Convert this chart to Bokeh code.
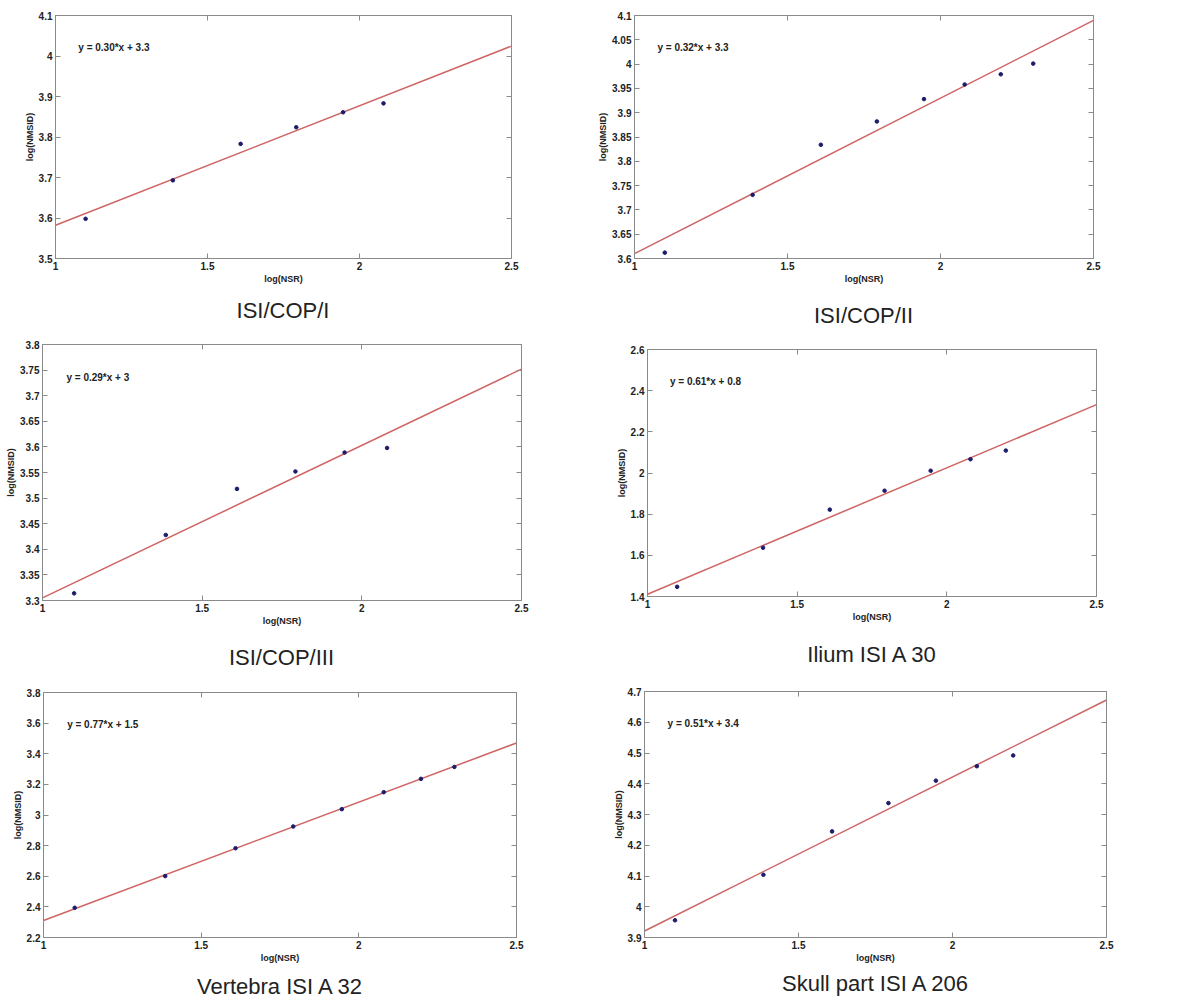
from bokeh.plotting import figure
from bokeh.layouts import column, row
from bokeh.models import Range1d, FixedTicker, LinearAxis, Label, CustomJSTickFormatter, Div
from bokeh.embed import file_html
from bokeh.resources import INLINE

# ---------------- data ----------------
x_nsr = [1.099, 1.386, 1.609, 1.792, 1.946, 2.079, 2.197, 2.303]
x_ticks = [1, 1.5, 2, 2.5]

titles = ["ISI/COP/I", "ISI/COP/II", "ISI/COP/III", "Ilium ISI A 30",
          "Vertebra ISI A 32", "Skull part ISI A 206"]

cop1_y = [3.598, 3.693, 3.783, 3.824, 3.861, 3.883]
cop2_y = [3.612, 3.731, 3.834, 3.882, 3.928, 3.958, 3.979, 4.001]
cop3_y = [3.314, 3.428, 3.518, 3.552, 3.589, 3.598]
ilium_y = [1.447, 1.637, 1.822, 1.914, 2.011, 2.067, 2.109]
vert_y = [2.394, 2.601, 2.783, 2.925, 3.038, 3.149, 3.236, 3.314]
skull_y = [3.956, 4.104, 4.245, 4.337, 4.410, 4.457, 4.492]

fit_slope = [0.295, 0.320, 0.298, 0.614, 0.773, 0.501]
fit_intercept = [3.287, 3.290, 3.007, 0.797, 1.538, 3.420]
equations = ["y = 0.30*x + 3.3", "y = 0.32*x + 3.3", "y = 0.29*x + 3",
             "y = 0.61*x + 0.8", "y = 0.77*x + 1.5", "y = 0.51*x + 3.4"]

y_ranges = [(3.5, 4.1), (3.6, 4.1), (3.3, 3.8), (1.4, 2.6), (2.2, 3.8), (3.9, 4.7)]
y_ticks_1 = [3.5, 3.6, 3.7, 3.8, 3.9, 4.0, 4.1]
y_ticks_2 = [3.6, 3.65, 3.7, 3.75, 3.8, 3.85, 3.9, 3.95, 4.0, 4.05, 4.1]
y_ticks_3 = [3.3, 3.35, 3.4, 3.45, 3.5, 3.55, 3.6, 3.65, 3.7, 3.75, 3.8]
y_ticks_4 = [1.4, 1.6, 1.8, 2.0, 2.2, 2.4, 2.6]
y_ticks_5 = [2.2, 2.4, 2.6, 2.8, 3.0, 3.2, 3.4, 3.6, 3.8]
y_ticks_6 = [3.9, 4.0, 4.1, 4.2, 4.3, 4.4, 4.5, 4.6, 4.7]

series = [cop1_y, cop2_y, cop3_y, ilium_y, vert_y, skull_y]
y_ticks = [y_ticks_1, y_ticks_2, y_ticks_3, y_ticks_4, y_ticks_5, y_ticks_6]

# ---- layout: frame w, frame h, border l, r, t, caption box height, caption centre in box ----
AXB = 32  # bottom border holding the x axis
geom = [
    (456, 243, 55, 63, 15, 44, 21),
    (459, 243, 60, 10, 15, 44, 26),
    (479, 256, 42, 66, 10, 49, 26),
    (449, 247, 60, 10, 15, 53, 27),
    (473, 245, 43, 68, 11, 30, 18),
    (462, 246, 60, 10, 10, 30, 15),
]

FONT = "Liberation Sans"
EDGE = "#8a8a8a"
fmt = CustomJSTickFormatter(code="return String(+tick.toFixed(3));")
blank = CustomJSTickFormatter(code="return '';")


def style_axis(ax, ticks, show_labels=True):
    ax.ticker = FixedTicker(ticks=ticks)
    ax.minor_tick_line_color = None
    ax.major_tick_in = 5
    ax.major_tick_out = 0
    ax.major_tick_line_color = EDGE
    ax.axis_line_color = EDGE
    if show_labels:
        ax.formatter = fmt
        ax.major_label_text_font = FONT
        ax.major_label_text_font_style = "bold"
        ax.major_label_text_font_size = "10px"
        ax.major_label_text_color = "#222222"
        ax.major_label_standoff = 3
        ax.axis_label_text_font = FONT
        ax.axis_label_text_font_style = "bold"
        ax.axis_label_text_font_size = "9px"
        ax.axis_label_text_color = "#222222"
        ax.axis_label_standoff = 1
    else:
        ax.formatter = blank
        ax.major_label_standoff = 0
        ax.major_label_text_font_size = "1px"


def make_panel(i):
    fw, fh, bl, br, bt, dh, dc = geom[i]
    x0, x1 = x_ticks[0], x_ticks[-1]
    y0, y1 = y_ranges[i]
    W = bl + fw + br
    p = figure(width=W, height=bt + fh + AXB,
               x_range=Range1d(x0, x1), y_range=Range1d(y0, y1),
               output_backend="svg", toolbar_location=None,
               min_border_left=bl, min_border_right=br,
               min_border_top=bt, min_border_bottom=AXB)
    p.grid.visible = False
    p.outline_line_color = EDGE
    p.background_fill_color = "white"
    p.border_fill_color = "white"

    p.xaxis.axis_label = "log(NSR)"
    p.yaxis.axis_label = "log(NMSID)"
    style_axis(p.xaxis[0], x_ticks)
    style_axis(p.yaxis[0], y_ticks[i])

    top = LinearAxis()
    style_axis(top, x_ticks, show_labels=False)
    p.add_layout(top, "above")
    right = LinearAxis()
    style_axis(right, y_ticks[i], show_labels=False)
    p.add_layout(right, "right")

    # fitted line over the x range
    lx = [x0, x1]
    ly = [fit_slope[i] * v + fit_intercept[i] for v in lx]
    p.line(lx, ly, line_color="#cf6464", line_width=1.5)

    ys = series[i]
    p.scatter(x_nsr[:len(ys)], ys, size=3.6, marker="circle",
              fill_color="#1c1c6a", line_color="#1c1c6a")

    p.add_layout(Label(x=x0 + 0.05 * (x1 - x0), y=y1 - 0.13 * (y1 - y0),
                       text=equations[i], text_font=FONT, text_font_style="bold",
                       text_font_size="10px", text_color="#222222",
                       text_baseline="middle", text_align="left"))

    # caption under the panel
    html = (f'<div style="position:relative;width:{W}px;height:{dh}px;margin:0;padding:0;">'
            f'<span style="position:absolute;left:{bl}px;width:{fw}px;top:{dc - 15}px;'
            f'height:30px;line-height:30px;text-align:center;white-space:nowrap;'
            f'font-family:\'{FONT}\';font-size:22px;color:#222222;">{titles[i]}</span></div>')
    d = Div(text=html, width=W, height=dh, margin=0)
    return column(p, d, spacing=0)


panels = [make_panel(i) for i in range(6)]
layout = column(row(panels[0], panels[1]), row(panels[2], panels[3]),
                row(panels[4], panels[5]))

open("out.html", "w").write(file_html(layout, INLINE))
